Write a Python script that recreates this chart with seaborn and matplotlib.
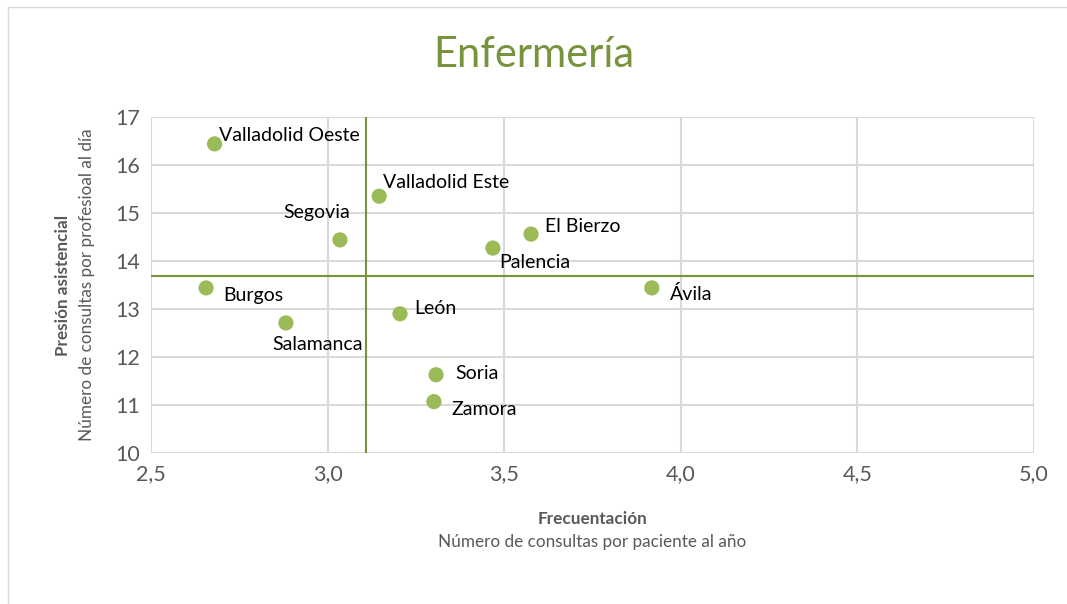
import numpy as np
import pandas as pd
import matplotlib
matplotlib.use("Agg")
import matplotlib.pyplot as plt
import matplotlib.patches as mpatches
import seaborn as sns

areas = ["Valladolid Oeste", "Valladolid Este", "Segovia", "El Bierzo", "Palencia",
         "Burgos", "Ávila", "León", "Salamanca", "Soria", "Zamora"]
frecuentacion = [2.68, 3.146, 3.035, 3.576, 3.468, 2.656, 3.918, 3.205, 2.882, 3.307, 3.301]
presion = [16.44, 15.35, 14.44, 14.56, 14.27, 13.44, 13.44, 12.90, 12.71, 11.63, 11.07]
media_x = 3.11
media_y = 13.69

# label offsets in pixels (dx, dy, ha)
label_pos = {
    "Valladolid Oeste": (4, 8, "left"),
    "Valladolid Este": (4, 14, "left"),
    "Segovia": (-23, 27, "center"),
    "El Bierzo": (14, 8, "left"),
    "Palencia": (6, -14, "left"),
    "Burgos": (17, -8, "left"),
    "Ávila": (18, -6, "left"),
    "León": (14, 5, "left"),
    "Salamanca": (32, -22, "center"),
    "Soria": (19, 1, "left"),
    "Zamora": (18, -8, "left"),
}

sns.set_style("white")
plt.rcParams['font.family'] = ['Lato', 'DejaVu Sans']

df = pd.DataFrame({"area": areas, "x": frecuentacion, "y": presion})

fig = plt.figure(figsize=(10.67, 6.04), dpi=100)
ax = fig.add_axes([151/1067, 1-453/604, (1034-151)/1067, (453-117)/604])

green = "#9BBB59"
dark = "#77933C"
grey = "#595959"

sns.scatterplot(data=df, x="x", y="y", ax=ax, color=green, s=120, edgecolor="none", zorder=3)

ax.axvline(media_x, color=dark, lw=1.5, zorder=2)
ax.axhline(media_y, color=dark, lw=1.5, zorder=2)

for a, xv, yv in zip(areas, frecuentacion, presion):
    dx, dy, ha = label_pos[a]
    ax.annotate(a, (xv, yv), xytext=(dx, dy), textcoords="offset pixels",
                ha=ha, va="center", fontsize=14, color="#000000", zorder=4)

ax.set_xlim(2.5, 5.0)
ax.set_ylim(10, 17)
ax.set_xticks(np.arange(2.5, 5.01, 0.5))
ax.set_xticklabels([f"{v:.1f}".replace(".", ",") for v in np.arange(2.5, 5.01, 0.5)])
ax.set_yticks(range(10, 18))
ax.grid(True, color="#D9D9D9", lw=1.5, zorder=0)
ax.set_axisbelow(True)
for s in ax.spines.values():
    s.set_visible(False)
ax.tick_params(axis="both", length=0, labelsize=15.5, labelcolor=grey, pad=8)
ax.set_xlabel("")
ax.set_ylabel("")

fig.text(0.5, 1-55/604, "Enfermería", ha="center", va="center", fontsize=30,
         color=dark)
cx = (151+1034)/2/1067
fig.text(cx, 1-519/604, "Frecuentación", ha="center", va="center", fontsize=12.3,
         color=grey, fontweight="bold")
fig.text(cx, 1-542/604, "Número de consultas por paciente al año", ha="center", va="center",
         fontsize=12.3, color=grey)
cy = 1-285/604
fig.text(63/1067, cy, "Presión asistencial", ha="center", va="center", rotation=90,
         fontsize=12.3, color=grey, fontweight="bold")
fig.text(87/1067, cy, "Número de consultas por profesioal al día", ha="center", va="center",
         rotation=90, fontsize=12.3, color=grey)

fig.patches.append(mpatches.Rectangle((8/1067, -0.01), 1.0, 1-7/604+0.01,
                                      transform=fig.transFigure, fill=False,
                                      edgecolor="#D9D9D9", lw=1))

fig.savefig("out.png", dpi=100)
